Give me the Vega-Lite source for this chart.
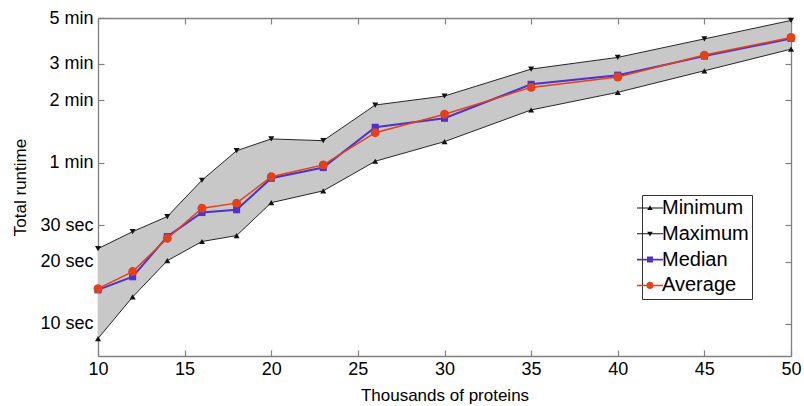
{
  "$schema": "https://vega.github.io/schema/vega-lite/v6.json",
  "width": 693,
  "height": 338,
  "autosize": "none",
  "padding": {"left": 98, "top": 18, "right": 13, "bottom": 50},
  "background": "white",
  "data": {"values": [
    {"k": 10, "Minimum": 8.5, "Maximum": 23.1, "Median": 14.6, "Average": 14.8},
    {"k": 12, "Minimum": 13.5, "Maximum": 27.9, "Median": 16.9, "Average": 17.9},
    {"k": 14, "Minimum": 20.2, "Maximum": 33.0, "Median": 26.4, "Average": 25.9},
    {"k": 16, "Minimum": 25.0, "Maximum": 49.4, "Median": 34.5, "Average": 36.2},
    {"k": 18, "Minimum": 26.7, "Maximum": 68.6, "Median": 35.6, "Average": 38.3},
    {"k": 20, "Minimum": 38.5, "Maximum": 78.2, "Median": 50.5, "Average": 51.4},
    {"k": 23, "Minimum": 43.9, "Maximum": 76.7, "Median": 56.9, "Average": 58.6},
    {"k": 26, "Minimum": 61.0, "Maximum": 114.0, "Median": 89.0, "Average": 83.8},
    {"k": 30, "Minimum": 75.9, "Maximum": 126.0, "Median": 98.4, "Average": 103.0},
    {"k": 35, "Minimum": 107.9, "Maximum": 170.0, "Median": 143.5, "Average": 138.7},
    {"k": 40, "Minimum": 131.3, "Maximum": 193.6, "Median": 158.9, "Average": 155.6},
    {"k": 45, "Minimum": 166.8, "Maximum": 237.8, "Median": 196.4, "Average": 198.6},
    {"k": 50, "Minimum": 212.2, "Maximum": 292.0, "Median": 239.0, "Average": 241.5}
  ]},
  "layer": [
    {
      "mark": {"type": "area", "color": "#c8c8c8", "opacity": 1},
      "encoding": {
        "x": {"field": "k", "type": "quantitative",
              "scale": {"domain": [10, 50], "nice": false, "zero": false},
              "axis": {"orient": "bottom", "values": [10, 15, 20, 25, 30, 35, 40, 45, 50], "format": "d",
                       "title": "Thousands of proteins", "labelPadding": 10, "titleY": 39, "titleBaseline": "middle"}},
        "y": {"field": "Minimum", "type": "quantitative",
              "scale": {"type": "log", "domain": [7, 300], "nice": false, "zero": false},
              "axis": {"orient": "left", "values": [10, 20, 30, 60, 120, 180, 300],
                       "labelExpr": "datum.value < 60 ? datum.value + ' sec' : (datum.value / 60) + ' min'",
                       "title": "Total runtime", "labelPadding": 11, "titleX": -78, "titleY": 169,
                       "titleBaseline": "middle", "titleAlign": "center"}},
        "y2": {"field": "Maximum"}
      }
    },
    {
      "mark": {"type": "line", "strokeWidth": 0.9, "point": {"shape": "triangle-up", "size": 36, "filled": true}},
      "encoding": {
        "x": {"field": "k", "type": "quantitative",
              "axis": {"orient": "top", "values": [10, 15, 20, 25, 30, 35, 40, 45, 50], "labels": false, "title": null}},
        "y": {"field": "Minimum", "type": "quantitative",
              "axis": {"orient": "right", "values": [10, 20, 30, 60, 120, 180, 300], "labels": false, "title": null}},
        "color": {"datum": "Minimum", "type": "nominal",
                  "scale": {"domain": ["Minimum", "Maximum", "Median", "Average"],
                            "range": ["#111111", "#111111", "#4f32c8", "#e3401b"]},
                  "legend": {
                    "orient": "none", "legendX": 544, "legendY": 177, "title": null,
                    "strokeColor": "#333333", "fillColor": "white", "padding": 3, "rowPadding": 5.8,
                    "labelFontSize": 20, "labelColor": "#000", "labelOffset": 2, "symbolOffset": -5, "symbolSize": 144,
                    "encode": {"symbols": {"update": {
                      "shape": {"signal": "datum.value === 'Minimum' ? 'M-2.17,-0.083H2.17V0.083H-2.17Z M-0.46,0.33L0,-0.46L0.46,0.33Z' : datum.value === 'Maximum' ? 'M-2.17,-0.083H2.17V0.083H-2.17Z M0.46,-0.33L0,0.46L-0.46,-0.33Z' : datum.value === 'Median' ? 'M-2.17,-0.146H2.17V0.146H-2.17Z M-0.5,-0.5H0.5V0.5H-0.5Z' : 'M-2.17,-0.125H2.17V0.125H-2.17Z M-0.6,0A0.6,0.6 0 1,1 0.6,0A0.6,0.6 0 1,1 -0.6,0Z'"},
                      "fill": {"signal": "datum.value === 'Median' ? '#4f32c8' : datum.value === 'Average' ? '#e3401b' : '#111111'"},
                      "stroke": {"value": "transparent"},
                      "strokeWidth": {"value": 0},
                      "opacity": {"value": 1},
                      "fillOpacity": {"value": 1}
                    }}}
                  }}
      }
    },
    {
      "mark": {"type": "line", "strokeWidth": 0.9, "point": {"shape": "triangle-down", "size": 36, "filled": true}},
      "encoding": {
        "x": {"field": "k", "type": "quantitative", "axis": null},
        "y": {"field": "Maximum", "type": "quantitative", "axis": null},
        "color": {"datum": "Maximum", "type": "nominal"}
      }
    },
    {
      "mark": {"type": "line", "strokeWidth": 2, "point": {"shape": "square", "size": 50, "filled": true}},
      "encoding": {
        "x": {"field": "k", "type": "quantitative", "axis": null},
        "y": {"field": "Median", "type": "quantitative", "axis": null},
        "color": {"datum": "Median", "type": "nominal"}
      }
    },
    {
      "mark": {"type": "line", "strokeWidth": 1.5, "point": {"shape": "circle", "size": 80, "filled": true, "opacity": 1}},
      "encoding": {
        "x": {"field": "k", "type": "quantitative", "axis": null},
        "y": {"field": "Average", "type": "quantitative", "axis": null},
        "color": {"datum": "Average", "type": "nominal"}
      }
    }
  ],
  "config": {
    "font": "Liberation Sans",
    "view": {"stroke": null},
    "axis": {"grid": false, "domainColor": "#808080", "tickColor": "#808080", "domainWidth": 1.3, "tickWidth": 1.2,
             "labelColor": "#000", "titleColor": "#000", "labelFontSize": 18, "titleFontSize": 17, "labelFlush": false,
             "titleFontWeight": "normal", "tickSize": -6, "labelFont": "Liberation Sans", "titleFont": "Liberation Sans"}
  }
}
